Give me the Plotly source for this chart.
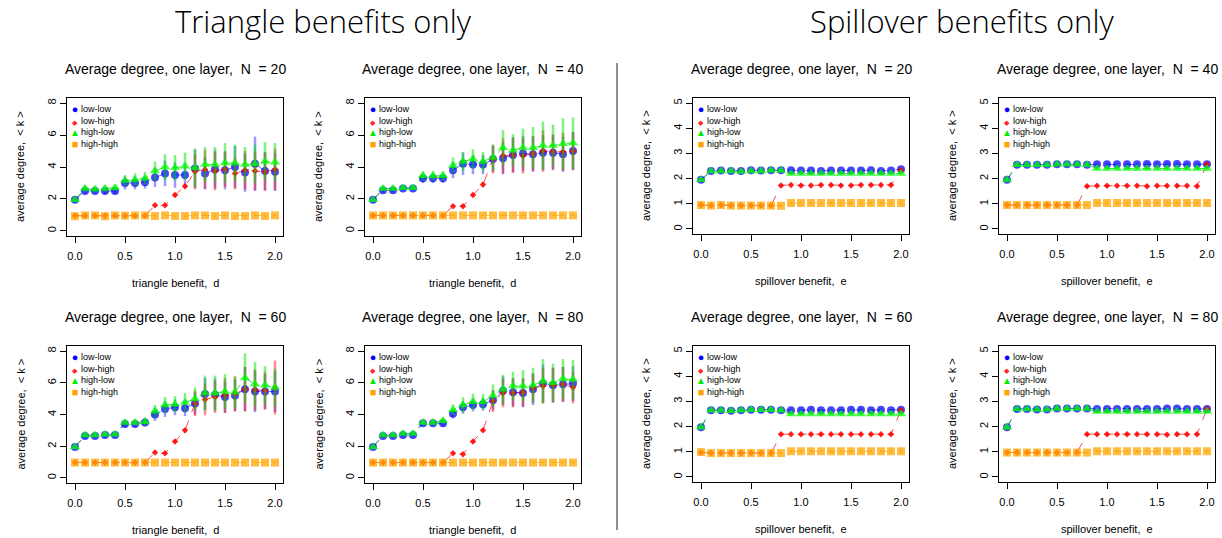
import plotly.graph_objects as go

# ---------------- data ----------------
X = [0.0, 0.1, 0.2, 0.3, 0.4, 0.5, 0.6, 0.7, 0.8, 0.9, 1.0,
     1.1, 1.2, 1.3, 1.4, 1.5, 1.6, 1.7, 1.8, 1.9, 2.0]
X_TICKS = [0.0, 0.5, 1.0, 1.5, 2.0]
X_TICKTEXT = ["0.0", "0.5", "1.0", "1.5", "2.0"]
SERIES = ["low-low", "low-high", "high-low", "high-high"]

# Triangle benefits, N = 20
T20_LL = [1.95, 2.50, 2.50, 2.50, 2.50, 3.00, 3.00, 3.05, 3.35, 3.60, 3.50, 3.50, 3.90, 3.60, 3.85, 3.80, 4.00, 3.65, 4.20, 3.75, 3.70]
T20_LL_E = [0.05, 0.15, 0.15, 0.20, 0.20, 0.40, 0.40, 0.40, 0.60, 0.80, 0.80, 0.70, 1.20, 1.00, 1.20, 1.20, 1.30, 1.20, 1.70, 1.20, 1.20]
T20_LH = [0.95, 0.95, 0.95, 0.95, 0.95, 0.95, 0.95, 0.95, 1.60, 1.60, 2.25, 2.80, 3.70, 3.85, 3.75, 3.85, 3.60, 3.80, 3.75, 3.70, 3.85]
T20_LH_E = [0.03, 0.03, 0.03, 0.03, 0.03, 0.03, 0.03, 0.03, 0.05, 0.05, 0.10, 0.15, 1.10, 1.20, 1.20, 1.10, 1.00, 1.20, 1.20, 1.20, 1.30]
T20_HL = [1.95, 2.65, 2.60, 2.65, 2.70, 3.15, 3.20, 3.30, 3.75, 4.00, 3.95, 4.05, 3.95, 4.15, 4.15, 4.25, 4.25, 4.15, 4.20, 4.35, 4.30]
T20_HL_E = [0.05, 0.20, 0.20, 0.20, 0.20, 0.35, 0.40, 0.40, 0.60, 0.80, 0.80, 0.85, 1.20, 1.10, 1.10, 1.25, 1.15, 1.10, 1.20, 1.20, 1.20]
T20_HH = [0.92, 0.97, 0.97, 0.92, 0.97, 0.95, 0.97, 0.97, 0.93, 0.97, 0.93, 0.93, 0.97, 0.97, 0.93, 0.97, 0.93, 0.93, 0.97, 0.93, 0.97]
T20_HH_E = [0.05, 0.05, 0.05, 0.05, 0.05, 0.05, 0.05, 0.05, 0.05, 0.05, 0.05, 0.05, 0.05, 0.05, 0.05, 0.05, 0.05, 0.05, 0.05, 0.05, 0.05]

# Triangle benefits, N = 40
T40_LL = [1.95, 2.55, 2.55, 2.65, 2.65, 3.30, 3.30, 3.30, 3.80, 4.20, 4.15, 4.15, 4.50, 4.55, 4.75, 4.85, 4.80, 4.90, 4.90, 4.80, 5.00]
T40_LL_E = [0.05, 0.15, 0.15, 0.15, 0.15, 0.30, 0.30, 0.30, 0.50, 0.70, 0.60, 0.60, 0.80, 1.00, 1.10, 1.10, 1.10, 1.10, 1.10, 1.10, 1.20]
T40_LH = [0.97, 0.97, 0.97, 0.97, 0.97, 0.97, 0.97, 0.97, 1.55, 1.55, 2.25, 2.90, 4.50, 4.70, 4.75, 4.70, 4.85, 5.00, 4.95, 4.95, 5.00]
T40_LH_E = [0.03, 0.03, 0.03, 0.03, 0.03, 0.03, 0.03, 0.03, 0.05, 0.05, 0.10, 0.15, 0.90, 1.10, 1.10, 1.10, 1.10, 1.30, 1.10, 1.20, 1.20]
T40_HL = [1.95, 2.65, 2.65, 2.70, 2.70, 3.45, 3.45, 3.45, 4.10, 4.35, 4.50, 4.35, 4.60, 5.20, 5.05, 5.20, 5.20, 5.35, 5.35, 5.45, 5.50]
T40_HL_E = [0.05, 0.15, 0.15, 0.15, 0.15, 0.30, 0.30, 0.30, 0.50, 0.60, 0.60, 0.60, 0.80, 1.10, 1.00, 1.20, 1.30, 1.50, 1.30, 1.60, 1.60]
T40_HH = [0.97, 0.97, 0.97, 0.97, 0.97, 0.97, 0.97, 0.97, 0.97, 0.97, 0.97, 0.97, 0.97, 0.97, 0.97, 0.97, 0.97, 0.97, 0.97, 0.97, 0.97]
T40_HH_E = [0.04, 0.04, 0.04, 0.04, 0.04, 0.04, 0.04, 0.04, 0.04, 0.04, 0.04, 0.04, 0.04, 0.04, 0.04, 0.04, 0.04, 0.04, 0.04, 0.04, 0.04]

# Triangle benefits, N = 60
T60_LL = [1.95, 2.65, 2.65, 2.70, 2.70, 3.40, 3.40, 3.50, 4.00, 4.35, 4.45, 4.40, 4.70, 5.30, 5.25, 5.10, 5.20, 5.60, 5.45, 5.45, 5.45]
T60_LL_E = [0.05, 0.15, 0.15, 0.15, 0.15, 0.20, 0.20, 0.25, 0.40, 0.50, 0.50, 0.50, 0.70, 1.00, 1.00, 1.00, 1.00, 1.40, 1.30, 1.10, 1.30]
T60_LH = [0.97, 0.97, 0.97, 0.97, 0.97, 0.97, 0.97, 0.97, 1.60, 1.55, 2.30, 3.00, 4.70, 4.95, 5.10, 5.20, 5.30, 5.60, 5.55, 5.50, 5.70]
T60_LH_E = [0.03, 0.03, 0.03, 0.03, 0.03, 0.03, 0.03, 0.03, 0.05, 0.05, 0.10, 0.15, 0.80, 1.00, 1.00, 1.10, 1.10, 1.40, 1.30, 1.20, 1.70]
T60_HL = [1.95, 2.70, 2.70, 2.75, 2.75, 3.50, 3.50, 3.55, 4.20, 4.60, 4.65, 4.75, 5.00, 5.35, 5.35, 5.45, 5.40, 6.30, 5.90, 5.85, 5.70]
T60_HL_E = [0.05, 0.15, 0.15, 0.15, 0.15, 0.20, 0.20, 0.25, 0.40, 0.50, 0.50, 0.60, 0.70, 1.10, 1.10, 1.10, 1.00, 1.55, 1.40, 1.20, 1.20]
T60_HH = [0.97, 0.97, 0.97, 0.97, 0.97, 0.97, 0.97, 0.97, 0.97, 0.97, 0.97, 0.97, 0.97, 0.97, 0.97, 0.97, 0.97, 0.97, 0.97, 0.97, 0.97]
T60_HH_E = [0.04, 0.04, 0.04, 0.04, 0.04, 0.04, 0.04, 0.04, 0.04, 0.04, 0.04, 0.04, 0.04, 0.04, 0.04, 0.04, 0.04, 0.04, 0.04, 0.04, 0.04]

# Triangle benefits, N = 80
T80_LL = [1.95, 2.65, 2.65, 2.70, 2.70, 3.45, 3.45, 3.45, 4.05, 4.45, 4.60, 4.65, 4.90, 5.50, 5.40, 5.35, 5.60, 5.95, 5.85, 5.90, 5.95]
T80_LL_E = [0.05, 0.10, 0.10, 0.10, 0.10, 0.15, 0.15, 0.20, 0.30, 0.40, 0.40, 0.40, 0.60, 0.90, 0.90, 0.90, 1.00, 1.20, 1.10, 1.10, 1.10]
T80_LH = [0.97, 0.97, 0.97, 0.97, 0.97, 0.97, 0.97, 0.97, 1.55, 1.50, 2.30, 3.00, 4.85, 5.35, 5.35, 5.40, 5.65, 5.80, 5.85, 5.90, 5.70]
T80_LH_E = [0.03, 0.03, 0.03, 0.03, 0.03, 0.03, 0.03, 0.03, 0.05, 0.05, 0.10, 0.10, 0.70, 0.90, 0.90, 0.90, 0.90, 1.10, 1.10, 1.10, 1.00]
T80_HL = [1.95, 2.70, 2.70, 2.80, 2.80, 3.50, 3.50, 3.60, 4.30, 4.60, 4.80, 4.80, 5.20, 5.60, 5.80, 5.80, 5.85, 6.10, 6.00, 6.25, 6.20]
T80_HL_E = [0.05, 0.10, 0.10, 0.10, 0.10, 0.15, 0.15, 0.20, 0.35, 0.50, 0.50, 0.50, 0.70, 0.90, 0.90, 1.00, 1.10, 1.40, 1.20, 1.25, 1.25]
T80_HH = [0.97, 0.97, 0.97, 0.97, 0.97, 0.97, 0.97, 0.97, 0.97, 0.97, 0.97, 0.97, 0.97, 0.97, 0.97, 0.97, 0.97, 0.97, 0.97, 0.97, 0.97]
T80_HH_E = [0.04, 0.04, 0.04, 0.04, 0.04, 0.04, 0.04, 0.04, 0.04, 0.04, 0.04, 0.04, 0.04, 0.04, 0.04, 0.04, 0.04, 0.04, 0.04, 0.04, 0.04]

# Spillover benefits, N = 20
S20_LL = [1.95, 2.30, 2.32, 2.30, 2.30, 2.33, 2.32, 2.33, 2.33, 2.33, 2.32, 2.32, 2.30, 2.32, 2.32, 2.32, 2.32, 2.33, 2.30, 2.32, 2.37]
S20_LL_E = [0.05, 0.05, 0.05, 0.05, 0.05, 0.05, 0.05, 0.05, 0.05, 0.05, 0.05, 0.05, 0.05, 0.05, 0.05, 0.05, 0.05, 0.05, 0.05, 0.05, 0.05]
S20_LH = [0.95, 0.93, 0.95, 0.93, 0.93, 0.93, 0.93, 0.93, 1.73, 1.75, 1.73, 1.73, 1.75, 1.75, 1.73, 1.73, 1.75, 1.75, 1.75, 1.75, 2.33]
S20_LH_E = [0.03, 0.03, 0.03, 0.03, 0.03, 0.03, 0.03, 0.03, 0.05, 0.05, 0.05, 0.05, 0.05, 0.05, 0.05, 0.05, 0.05, 0.05, 0.05, 0.05, 0.05]
S20_HL = [1.95, 2.30, 2.30, 2.30, 2.28, 2.30, 2.30, 2.33, 2.32, 2.20, 2.20, 2.20, 2.20, 2.20, 2.20, 2.20, 2.20, 2.20, 2.20, 2.20, 2.20]
S20_HL_E = [0.05, 0.05, 0.05, 0.05, 0.05, 0.05, 0.05, 0.05, 0.05, 0.05, 0.05, 0.05, 0.05, 0.05, 0.05, 0.05, 0.05, 0.05, 0.05, 0.05, 0.05]
S20_HH = [0.95, 0.93, 0.95, 0.93, 0.93, 0.93, 0.93, 0.93, 0.92, 1.03, 1.03, 1.03, 1.03, 1.03, 1.03, 1.03, 1.03, 1.03, 1.03, 1.03, 1.03]
S20_HH_E = [0.04, 0.04, 0.04, 0.04, 0.04, 0.04, 0.04, 0.04, 0.04, 0.06, 0.06, 0.06, 0.06, 0.06, 0.06, 0.06, 0.06, 0.06, 0.06, 0.06, 0.06]

# Spillover benefits, N = 40
S40_LL = [1.95, 2.55, 2.55, 2.55, 2.55, 2.57, 2.57, 2.57, 2.55, 2.57, 2.57, 2.57, 2.57, 2.57, 2.58, 2.57, 2.58, 2.58, 2.57, 2.57, 2.57]
S40_LL_E = [0.05, 0.05, 0.05, 0.05, 0.05, 0.05, 0.05, 0.05, 0.05, 0.05, 0.05, 0.05, 0.05, 0.05, 0.05, 0.05, 0.05, 0.05, 0.05, 0.05, 0.05]
S40_LH = [0.95, 0.95, 0.95, 0.95, 0.95, 0.95, 0.95, 0.95, 1.70, 1.72, 1.72, 1.72, 1.72, 1.72, 1.70, 1.72, 1.72, 1.72, 1.72, 1.70, 2.57]
S40_LH_E = [0.03, 0.03, 0.03, 0.03, 0.03, 0.03, 0.03, 0.03, 0.05, 0.05, 0.05, 0.05, 0.05, 0.05, 0.05, 0.05, 0.05, 0.05, 0.05, 0.05, 0.05]
S40_HL = [1.95, 2.55, 2.55, 2.55, 2.55, 2.57, 2.57, 2.57, 2.55, 2.40, 2.40, 2.40, 2.40, 2.40, 2.40, 2.40, 2.40, 2.40, 2.40, 2.40, 2.40]
S40_HL_E = [0.05, 0.05, 0.05, 0.05, 0.05, 0.05, 0.05, 0.05, 0.05, 0.05, 0.05, 0.05, 0.05, 0.05, 0.05, 0.05, 0.05, 0.05, 0.05, 0.05, 0.05]
S40_HH = [0.95, 0.95, 0.95, 0.95, 0.95, 0.95, 0.95, 0.95, 0.95, 1.03, 1.03, 1.03, 1.03, 1.03, 1.03, 1.03, 1.03, 1.03, 1.03, 1.03, 1.03]
S40_HH_E = [0.04, 0.04, 0.04, 0.04, 0.04, 0.04, 0.04, 0.04, 0.04, 0.06, 0.06, 0.06, 0.06, 0.06, 0.06, 0.06, 0.06, 0.06, 0.06, 0.06, 0.06]

# Spillover benefits, N = 60
S60_LL = [1.97, 2.65, 2.65, 2.63, 2.65, 2.67, 2.67, 2.67, 2.65, 2.65, 2.65, 2.67, 2.65, 2.65, 2.65, 2.67, 2.67, 2.65, 2.67, 2.65, 2.67]
S60_LL_E = [0.05, 0.05, 0.05, 0.05, 0.05, 0.05, 0.05, 0.05, 0.05, 0.05, 0.05, 0.05, 0.05, 0.05, 0.05, 0.05, 0.05, 0.05, 0.05, 0.05, 0.05]
S60_LH = [0.97, 0.95, 0.95, 0.95, 0.95, 0.95, 0.95, 0.95, 1.70, 1.70, 1.70, 1.70, 1.70, 1.70, 1.70, 1.70, 1.70, 1.70, 1.70, 1.70, 2.65]
S60_LH_E = [0.03, 0.03, 0.03, 0.03, 0.03, 0.03, 0.03, 0.03, 0.05, 0.05, 0.05, 0.05, 0.05, 0.05, 0.05, 0.05, 0.05, 0.05, 0.05, 0.05, 0.05]
S60_HL = [1.97, 2.65, 2.65, 2.63, 2.65, 2.67, 2.67, 2.67, 2.65, 2.50, 2.50, 2.50, 2.50, 2.50, 2.50, 2.50, 2.50, 2.50, 2.50, 2.50, 2.50]
S60_HL_E = [0.05, 0.05, 0.05, 0.05, 0.05, 0.05, 0.05, 0.05, 0.05, 0.05, 0.05, 0.05, 0.05, 0.05, 0.05, 0.05, 0.05, 0.05, 0.05, 0.05, 0.05]
S60_HH = [0.99, 0.95, 0.95, 0.95, 0.95, 0.95, 0.95, 0.95, 0.95, 1.02, 1.02, 1.02, 1.02, 1.02, 1.02, 1.02, 1.02, 1.02, 1.02, 1.02, 1.02]
S60_HH_E = [0.04, 0.04, 0.04, 0.04, 0.04, 0.04, 0.04, 0.04, 0.04, 0.06, 0.06, 0.06, 0.06, 0.06, 0.06, 0.06, 0.06, 0.06, 0.06, 0.06, 0.06]

# Spillover benefits, N = 80
S80_LL = [1.97, 2.70, 2.70, 2.68, 2.68, 2.72, 2.72, 2.72, 2.72, 2.70, 2.70, 2.70, 2.70, 2.70, 2.70, 2.70, 2.72, 2.72, 2.70, 2.70, 2.70]
S80_LL_E = [0.05, 0.05, 0.05, 0.05, 0.05, 0.05, 0.05, 0.05, 0.05, 0.05, 0.05, 0.05, 0.05, 0.05, 0.05, 0.05, 0.05, 0.05, 0.05, 0.05, 0.05]
S80_LH = [0.97, 0.97, 0.97, 0.97, 0.97, 0.97, 0.97, 0.97, 1.70, 1.70, 1.70, 1.70, 1.70, 1.70, 1.70, 1.70, 1.68, 1.70, 1.70, 1.70, 2.70]
S80_LH_E = [0.03, 0.03, 0.03, 0.03, 0.03, 0.03, 0.03, 0.03, 0.05, 0.05, 0.05, 0.05, 0.05, 0.05, 0.05, 0.05, 0.05, 0.05, 0.05, 0.05, 0.05]
S80_HL = [1.97, 2.70, 2.70, 2.68, 2.68, 2.72, 2.72, 2.72, 2.72, 2.60, 2.60, 2.60, 2.60, 2.60, 2.60, 2.60, 2.60, 2.60, 2.60, 2.60, 2.60]
S80_HL_E = [0.05, 0.05, 0.05, 0.05, 0.05, 0.05, 0.05, 0.05, 0.05, 0.05, 0.05, 0.05, 0.05, 0.05, 0.05, 0.05, 0.05, 0.05, 0.05, 0.05, 0.05]
S80_HH = [0.97, 0.97, 0.97, 0.97, 0.97, 0.97, 0.97, 0.97, 0.97, 1.02, 1.02, 1.02, 1.02, 1.02, 1.02, 1.02, 1.02, 1.02, 1.02, 1.02, 1.02]
S80_HH_E = [0.04, 0.04, 0.04, 0.04, 0.04, 0.04, 0.04, 0.04, 0.04, 0.06, 0.06, 0.06, 0.06, 0.06, 0.06, 0.06, 0.06, 0.06, 0.06, 0.06, 0.06]

# ---------------- styling / layout ----------------
W, H = 1222, 538
FONT = "Liberation Sans, Arial, Helvetica, sans-serif"

MARKERS = [
    dict(symbol="circle", size=8, color="rgba(0,0,255,0.72)"),
    dict(symbol="diamond", size=5, color="rgba(255,0,0,0.85)"),
    dict(symbol="triangle-up", size=9, color="rgba(0,255,0,0.75)"),
    dict(symbol="square", size=8, color="rgba(255,165,0,0.75)"),
]
ERRCOL = ["rgba(0,0,255,0.4)", "rgba(255,0,0,0.45)", "rgba(0,230,0,0.5)", "rgba(255,165,0,0.55)"]
LINECOL = ["rgba(0,0,255,0.6)", "rgba(255,0,0,0.7)", "rgba(0,200,0,0.7)", "rgba(255,165,0,0.7)"]
# legend key glyphs (text symbols) and their colours / sizes
KEY_GLYPHS = ["\u25CF", "\u25C6", "\u25B2", "\u25A0"]
KEY_COLORS = ["rgb(0,0,255)", "rgb(255,40,40)", "rgb(0,235,0)", "rgb(255,165,0)"]
KEY_SIZES = [11, 7, 10, 11]

# pixel boxes (left, right, top, bottom) of each plotting region
BOXES = [
    (67, 283, 98, 236), (365, 581, 98, 236),
    (67, 283, 346, 483), (365, 581, 346, 483),
    (693, 909, 98, 234), (999, 1215, 98, 234),
    (693, 909, 346, 482), (999, 1215, 346, 482),
]

PANELS = [
    ("20", "triangle benefit,  d", 8, [T20_LL, T20_LH, T20_HL, T20_HH], [T20_LL_E, T20_LH_E, T20_HL_E, T20_HH_E]),
    ("40", "triangle benefit,  d", 8, [T40_LL, T40_LH, T40_HL, T40_HH], [T40_LL_E, T40_LH_E, T40_HL_E, T40_HH_E]),
    ("60", "triangle benefit,  d", 8, [T60_LL, T60_LH, T60_HL, T60_HH], [T60_LL_E, T60_LH_E, T60_HL_E, T60_HH_E]),
    ("80", "triangle benefit,  d", 8, [T80_LL, T80_LH, T80_HL, T80_HH], [T80_LL_E, T80_LH_E, T80_HL_E, T80_HH_E]),
    ("20", "spillover benefit,  e", 5, [S20_LL, S20_LH, S20_HL, S20_HH], [S20_LL_E, S20_LH_E, S20_HL_E, S20_HH_E]),
    ("40", "spillover benefit,  e", 5, [S40_LL, S40_LH, S40_HL, S40_HH], [S40_LL_E, S40_LH_E, S40_HL_E, S40_HH_E]),
    ("60", "spillover benefit,  e", 5, [S60_LL, S60_LH, S60_HL, S60_HH], [S60_LL_E, S60_LH_E, S60_HL_E, S60_HH_E]),
    ("80", "spillover benefit,  e", 5, [S80_LL, S80_LH, S80_HL, S80_HH], [S80_LL_E, S80_LH_E, S80_HL_E, S80_HH_E]),
]

fig = go.Figure()
layout = dict(
    width=W, height=H, margin=dict(l=0, r=0, t=0, b=0),
    paper_bgcolor="white", plot_bgcolor="white",
    font=dict(family=FONT, color="black", size=11),
    showlegend=False,
)
annotations = []

key_text = "<br>".join(
    f"<span style='color:{c};font-size:{fs}px'>{g}</span>"
    for g, c, fs in zip(KEY_GLYPHS, KEY_COLORS, KEY_SIZES))
label_text = "<br>".join(SERIES)

for i, (n, xtitle, ymax, means, errs) in enumerate(PANELS):
    k = i + 1
    sfx = "" if k == 1 else str(k)
    xa, ya = f"x{sfx}", f"y{sfx}"
    l, r, t, b = BOXES[i]

    # dashed connecting lines (under markers)
    for s in range(4):
        fig.add_trace(go.Scatter(
            x=X, y=means[s], mode="lines", xaxis=xa, yaxis=ya,
            line=dict(color=LINECOL[s], width=1, dash="dash"),
            showlegend=False, hoverinfo="skip"))
    # markers with error bars
    for s in range(4):
        fig.add_trace(go.Scatter(
            x=X, y=means[s], mode="markers", xaxis=xa, yaxis=ya,
            name=SERIES[s],
            marker=dict(**MARKERS[s], line=dict(width=0)),
            error_y=dict(type="data", array=errs[s], visible=True,
                         thickness=2.5, width=0, color=ERRCOL[s]),
            showlegend=False))

    pad = 0.04 * ymax
    axcommon = dict(showline=True, linecolor="black", linewidth=1, mirror=True,
                    ticks="outside", ticklen=6, tickcolor="black", tickwidth=1,
                    showgrid=False, zeroline=False, tickfont=dict(size=11, family=FONT))
    layout[f"xaxis{sfx}"] = dict(
        domain=[l / W, r / W], anchor=ya, range=[-0.08, 2.08],
        tickvals=X_TICKS, ticktext=X_TICKTEXT, ticklabelstandoff=4, **axcommon)
    layout[f"yaxis{sfx}"] = dict(
        domain=[1 - b / H, 1 - t / H], anchor=xa, range=[-pad, ymax + pad],
        tickvals=list(range(0, ymax + 1, 2 if ymax == 8 else 1)),
        tickangle=-90, **axcommon)

    cx = (l + r) / 2
    cy = (t + b) / 2
    # legend inside the panel: glyph column + label column
    legend_mid = t + 11 + 1.5 * 11.7
    annotations.append(dict(
        text=key_text, x=(l + 8) / W, y=1 - legend_mid / H, align="center",
        xref="paper", yref="paper", showarrow=False, xanchor="center", yanchor="middle",
        font=dict(size=9, family=FONT), borderpad=0))
    annotations.append(dict(
        text=label_text, x=(l + 13) / W, y=1 - legend_mid / H, align="left",
        xref="paper", yref="paper", showarrow=False, xanchor="left", yanchor="middle",
        font=dict(size=9, family=FONT), borderpad=0))
    # panel title
    annotations.append(dict(
        text=f"Average degree, one layer,  N  = {n}", x=cx / W, y=1 - (t - 29) / H,
        xref="paper", yref="paper", showarrow=False, xanchor="center", yanchor="middle",
        font=dict(size=14, family=FONT)))
    # x-axis title
    annotations.append(dict(
        text=xtitle, x=cx / W, y=1 - (b + 47) / H,
        xref="paper", yref="paper", showarrow=False, xanchor="center", yanchor="middle",
        font=dict(size=11, family=FONT)))
    # y-axis title
    annotations.append(dict(
        text="average degree,  < k >", x=(l - 47) / W, y=1 - cy / H, textangle=-90,
        xref="paper", yref="paper", showarrow=False, xanchor="center", yanchor="middle",
        font=dict(size=11, family=FONT)))

# section titles
TITLE_FONT = dict(size=31, family="Open Sans, Liberation Sans, Arial, sans-serif", weight=300)
annotations.append(dict(text="Triangle benefits only", x=323 / W, y=1 - 21 / H,
                        xref="paper", yref="paper", showarrow=False,
                        xanchor="center", yanchor="middle", font=TITLE_FONT))
annotations.append(dict(text="Spillover benefits only", x=962 / W, y=1 - 21 / H,
                        xref="paper", yref="paper", showarrow=False,
                        xanchor="center", yanchor="middle", font=TITLE_FONT))
layout["annotations"] = annotations
layout["shapes"] = [dict(type="line", xref="paper", yref="paper",
                         x0=617 / W, x1=617 / W, y0=1 - 63 / H, y1=1 - 530 / H,
                         line=dict(color="#8c9096", width=2))]

fig.update_layout(**layout)
fig.write_html("out.html",
               config={"displayModeBar": False},
               post_script="document.body.style.margin='0px';document.body.style.overflow='hidden';")
